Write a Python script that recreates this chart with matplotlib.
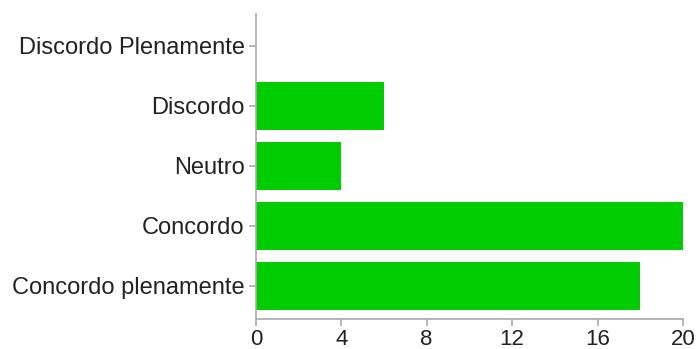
import matplotlib.pyplot as plt

categories = ["Concordo plenamente", "Concordo", "Neutro", "Discordo", "Discordo Plenamente"]
values = [18, 20, 4, 6, 0]
x_ticks = [0, 4, 8, 12, 16, 20]

plt.rcParams["font.family"] = ["Liberation Sans", "DejaVu Sans"]

fig = plt.figure(figsize=(6.99, 3.49), dpi=100)
ax = fig.add_axes([0.366, 0.086, 0.611, 0.874])

ax.barh(range(len(categories)), values, height=0.8, color="#00cc00")

ax.set_xlim(0, 20)
ax.set_ylim(-0.55, 4.53)
ax.set_xticks(x_ticks)
ax.set_yticks(range(len(categories)))
ax.set_yticklabels(categories)

for s in ["top", "right"]:
    ax.spines[s].set_visible(False)
for s in ["left", "bottom"]:
    ax.spines[s].set_color("#aaaaaa")
    ax.spines[s].set_linewidth(1.2)

ax.tick_params(axis="both", colors="#aaaaaa", length=5, width=1.2,
               labelcolor="#222222")
ax.tick_params(axis="y", pad=3, labelsize=17)
ax.tick_params(axis="x", pad=2, labelsize=16)

fig.savefig("out.png", dpi=100)
